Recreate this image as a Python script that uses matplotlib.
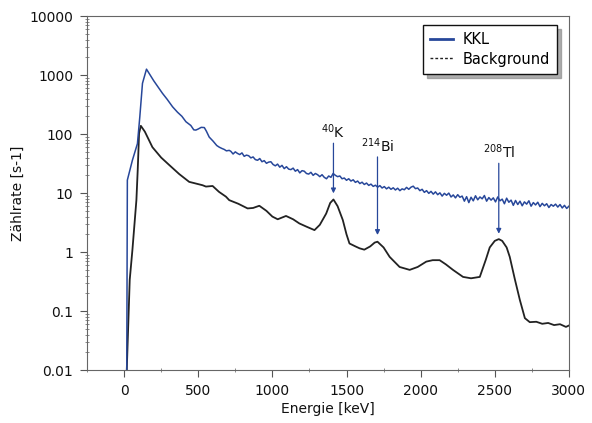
import matplotlib
matplotlib.use("Agg")
import matplotlib.pyplot as plt
import numpy as np
from matplotlib.lines import Line2D
from matplotlib.ticker import FixedLocator, FixedFormatter, LogLocator, MultipleLocator, NullFormatter

BLUE = '#27479a'
BLACK = '#222222'

# KKL spectrum (counts per second vs energy in keV)
kkl_energy = [18, 22, 56, 90, 106, 124, 151, 200, 259, 290, 327, 360, 390, 417, 450, 470, 484, 500, 520, 541,
              555, 574, 600, 625, 642, 660, 675, 690, 709,
              720, 735, 750, 765, 780, 795, 810, 825, 840, 855, 870, 885, 900, 915, 930, 945, 960, 975, 990,
              1005, 1020, 1035, 1050, 1065, 1080, 1095, 1110, 1125, 1140, 1155, 1170, 1185, 1200, 1215, 1230,
              1245, 1260, 1275, 1290, 1305, 1320, 1335, 1350, 1365, 1380, 1395, 1410, 1425, 1440, 1455, 1470,
              1485, 1500, 1515, 1530, 1545, 1560, 1575, 1590, 1605, 1620, 1635, 1650, 1665, 1680, 1695, 1710,
              1725, 1740, 1755, 1770, 1785, 1800, 1815, 1830, 1845, 1860, 1875, 1890, 1905, 1920, 1935, 1950,
              1965, 1980, 1995, 2010, 2025, 2040, 2055, 2070, 2085, 2100, 2115, 2130, 2145, 2160, 2175, 2190,
              2205, 2220, 2235, 2250, 2265, 2280, 2295, 2310, 2325, 2340, 2355, 2370, 2385, 2400, 2415, 2430,
              2445, 2460, 2475, 2490, 2505, 2520, 2535, 2550, 2565, 2580, 2595, 2610, 2625, 2640, 2655, 2670,
              2685, 2700, 2715, 2730, 2745, 2760, 2775, 2790, 2805, 2820, 2835, 2850, 2865, 2880, 2895, 2910,
              2925, 2940, 2955, 2970, 2985, 3000]
kkl_rate = [0.01, 16.6, 36, 69, 196, 725, 1260, 800, 490, 390, 290, 235, 200, 162, 140, 118, 117, 122, 130, 129,
            112, 89, 76, 64, 60, 57, 55, 52, 53,
            51, 46, 50, 47, 45, 48, 42, 44, 43, 39.5, 41, 37, 36, 38.5, 34, 35.5, 32, 33.5, 34,
            30.5, 29, 31, 27.5, 29.5, 26, 28, 25.5, 25, 26.5, 23.5, 25, 22, 24, 23.5, 21.5,
            21, 22.5, 20, 21.5, 20.5, 19, 20.5, 18.5, 17.5, 19.5, 18.5, 21.5, 20, 19, 19.5, 17.5,
            18, 16.5, 17.5, 16, 16.8, 15.2, 16, 14.5, 15.3, 14, 14.8, 13.5, 14.2, 13, 13.6, 12.6,
            13.4, 12.2, 12.9, 11.8, 12.6, 11.6, 12.3, 11.3, 12.1, 11, 11.8, 11.4, 12.5, 11.6, 12.6, 13.1,
            11.9, 12.2, 11, 11.6, 10.3, 11, 9.9, 10.7, 9.6, 10.5, 9.4, 10.1, 8.9, 9.9, 9.2, 10,
            8.6, 9.3, 8.3, 9.4, 8.5, 8.9, 7.3, 8.7, 6.9, 8.5, 7.4, 9, 7.7, 8.6, 8, 9.1,
            7.3, 8.4, 7.6, 8.3, 7.1, 8.6, 7.4, 7.9, 6.6, 8.2, 7, 7.6, 6.2, 7.5, 6.4, 7.3,
            6.1, 7.1, 6.5, 7.4, 6, 6.9, 6.3, 7, 5.9, 6.7, 6.1, 6.6, 5.7, 6.4, 6, 6.5,
            5.8, 6.4, 5.6, 6.2, 5.5, 6]

# background spectrum
bkg_energy = [18, 38, 56, 83, 92, 101, 113, 140, 191, 250, 304, 372, 439, 462, 529, 552, 597, 640, 687, 709,
              770, 833, 870, 912, 960, 1000, 1036, 1092, 1140, 1182, 1230, 1284, 1320, 1363, 1390, 1412, 1440,
              1475, 1500, 1520, 1560, 1588, 1620, 1660, 1690, 1709, 1750, 1791, 1858, 1926, 1980, 2038, 2081,
              2128, 2170, 2218, 2286, 2340, 2399, 2440, 2466, 2500, 2527, 2550, 2580, 2601, 2635, 2669, 2703,
              2736, 2780, 2820, 2860, 2900, 2940, 2980, 3000]
bkg_rate = [0.01, 0.34, 1.08, 7.6, 25, 103, 138, 110, 60, 40, 30, 21, 15.5, 15, 13.6, 12.9, 13.2, 10.5, 8.7, 7.6,
            6.6, 5.5, 5.6, 6.1, 5.0, 4.0, 3.6, 4.1, 3.6, 3.06, 2.7, 2.36, 2.9, 4.5, 6.8, 7.8, 6.0,
            3.5, 2.0, 1.4, 1.25, 1.16, 1.1, 1.25, 1.45, 1.5, 1.2, 0.83, 0.56, 0.5, 0.56, 0.69, 0.73,
            0.73, 0.62, 0.5, 0.38, 0.36, 0.38, 0.75, 1.2, 1.55, 1.66, 1.55, 1.2, 0.83, 0.35, 0.155, 0.076,
            0.065, 0.066, 0.061, 0.063, 0.058, 0.060, 0.054, 0.057]

# peak markers: label, energy, arrow top, arrow tip
peak_labels = ['$^{40}$K', '$^{214}$Bi', '$^{208}$Tl']
peak_energy = [1412, 1709, 2527]
peak_top = [70, 41, 32]
peak_tip = [9.9, 1.95, 2.05]

y_ticks = [0.01, 0.1, 1, 10, 100, 1000, 10000]
y_ticklabels = ['0.01', '0.1', '1', '10', '100', '1000', '10000']

fig = plt.figure(figsize=(5.92, 4.23), dpi=100)
ax = fig.add_axes([0.147, 0.125, 0.814, 0.837])

ax.plot(bkg_energy, bkg_rate, color=BLACK, lw=1.3)
ax.plot(kkl_energy, kkl_rate, color=BLUE, lw=1.1)

for lab, e, top, tip in zip(peak_labels, peak_energy, peak_top, peak_tip):
    ax.annotate('', xy=(e, tip), xytext=(e, top),
                arrowprops=dict(arrowstyle='-|>', color=BLUE, lw=0.9,
                                mutation_scale=7, shrinkA=0, shrinkB=0))
    ax.text(e, top * 1.08, lab, ha='center', va='bottom', fontsize=10, color='#111111')

ax.set_yscale('log')
ax.set_xlim(-250, 3000)
ax.set_ylim(0.01, 10000)

ax.yaxis.set_major_locator(FixedLocator(y_ticks))
ax.yaxis.set_major_formatter(FixedFormatter(y_ticklabels))
ax.yaxis.set_minor_locator(LogLocator(base=10, subs=np.arange(2, 10)))
ax.yaxis.set_minor_formatter(NullFormatter())
ax.xaxis.set_major_locator(MultipleLocator(500))
ax.xaxis.set_minor_locator(MultipleLocator(250))

ax.tick_params(axis='both', which='major', direction='out', length=5, width=0.8,
               color='#555555', labelsize=10, labelcolor='#111111', pad=5)
ax.tick_params(axis='both', which='minor', direction='inout', length=3, width=0.6, color='#777777')

for side in ['left', 'bottom', 'top', 'right']:
    ax.spines[side].set_color('#666666')
    ax.spines[side].set_linewidth(0.8)

ax.set_xlabel('Energie [keV]', fontsize=10, color='#111111', labelpad=3)
ax.set_ylabel('Zählrate [s-1]', fontsize=10, color='#111111', labelpad=3)

handles = [Line2D([], [], color=BLUE, lw=2),
           Line2D([], [], color=BLACK, lw=1, ls=(0, (2, 1.5)))]
leg = ax.legend(handles, ['KKL', 'Background'], loc='upper right', bbox_to_anchor=(0.975, 0.975),
                borderaxespad=0, fontsize=10.5, frameon=True, fancybox=False,
                shadow={'ox': 3, 'oy': -3, 'color': '0.55', 'alpha': 0.7},
                handlelength=1.6, handletextpad=0.6, borderpad=0.5, labelspacing=0.3)
leg.get_frame().set_edgecolor('#111111')
leg.get_frame().set_linewidth(1.0)

fig.savefig('out.png', dpi=100)
